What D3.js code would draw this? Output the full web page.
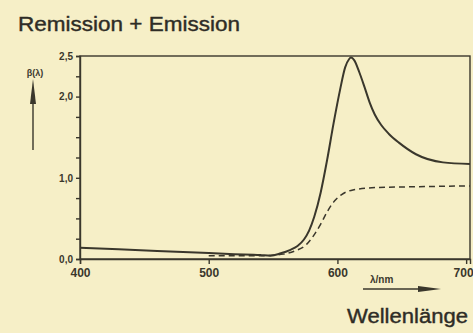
<!DOCTYPE html>
<html>
<head>
<meta charset="utf-8">
<script src="https://cdn.jsdelivr.net/npm/d3@7"></script>
<style>
  body { margin: 0; background: #f6efc7; }
  svg { display: block; font-family: "Liberation Sans", Arial, sans-serif; }
</style>
</head>
<body>
<svg id="chart" width="473" height="333"></svg>
<script>
// 1) Data

// solid curve: Remission + Emission
var totalNm  = [400, 430, 460, 490, 520, 540, 548, 556, 563, 569, 574, 578, 582, 587, 592, 597, 602, 606, 609, 610.5, 613, 617, 621, 625, 629, 634, 640, 648, 661, 682, 703];
var totalVal = [0.14, 0.12, 0.10, 0.08, 0.06, 0.05, 0.04, 0.07, 0.11, 0.16, 0.24, 0.35, 0.52, 0.82, 1.22, 1.67, 2.08, 2.36, 2.46, 2.48, 2.45, 2.30, 2.12, 1.93, 1.78, 1.65, 1.54, 1.43, 1.29, 1.19, 1.17];

// dashed curve: Remission only
var remNm  = [500, 540, 558, 567, 576, 582, 587, 592, 597, 603, 612, 630, 660, 703];
var remVal = [0.04, 0.04, 0.06, 0.10, 0.18, 0.30, 0.43, 0.58, 0.70, 0.79, 0.85, 0.88, 0.89, 0.90];

var xTicks = [400, 500, 600, 700];
var yTicks = [0, 0.25, 0.5, 0.75, 1, 1.25, 1.5, 1.75, 2, 2.25, 2.5];
var yLabelValues = [0, 1, 2, 2.5];

// 2) Chart

var ink = "#3a372c";
var svg = d3.select("#chart");

var x = d3.scaleLinear().domain([400, 703]).range([80, 470]);
var y = d3.scaleLinear().domain([0, 2.5]).range([259, 56]);

// frame
svg.append("rect")
    .attr("x", x(400)).attr("y", y(2.5))
    .attr("width", x(703) - x(400)).attr("height", y(0) - y(2.5))
    .attr("fill", "none").attr("stroke", ink).attr("stroke-width", 1.4);

// y axis
var yAxis = svg.append("g")
    .attr("transform", "translate(" + x(400) + ",0)")
    .call(d3.axisLeft(y).tickValues(yTicks).tickSize(4).tickPadding(3)
        .tickFormat(function(d) { return yLabelValues.indexOf(d) >= 0 ? d3.format(".1f")(d).replace(".", ",") : ""; }));

// x axis
var xAxis = svg.append("g")
    .attr("transform", "translate(0," + y(0) + ")")
    .call(d3.axisBottom(x).tickValues(xTicks).tickSize(5).tickPadding(4)
        .tickFormat(function(d) { return d; }));

[yAxis, xAxis].forEach(function(g) {
   g.select(".domain").attr("stroke", ink).attr("stroke-width", 1.4);
   g.selectAll(".tick line").attr("stroke", ink).attr("stroke-width", 1.4);
   g.selectAll(".tick text").attr("fill", ink).attr("font-weight", "bold")
       .attr("font-family", "'Liberation Sans Narrow', 'Liberation Sans', sans-serif");
});
yAxis.selectAll(".tick text").attr("font-size", 10);
xAxis.selectAll(".tick text").attr("font-size", 12);
// last label sits at the page edge: keep it inside
xAxis.selectAll(".tick text").filter(function(d) { return d === 700; })
    .attr("text-anchor", "end").attr("dx", "7");

// curves
var line = d3.line().curve(d3.curveMonotoneX);

svg.append("path")
    .attr("d", line(totalNm.map(function(d, i) { return [x(d), y(totalVal[i])]; })))
    .attr("fill", "none").attr("stroke", ink).attr("stroke-width", 2);

svg.append("path")
    .attr("d", line(remNm.map(function(d, i) { return [x(d), y(remVal[i])]; })))
    .attr("fill", "none").attr("stroke", ink).attr("stroke-width", 1.5)
    .attr("stroke-dasharray", "6,4");

// y label with arrow
svg.append("text")
    .attr("x", 35).attr("y", 76)
    .attr("text-anchor", "middle").attr("font-size", 9).attr("font-weight", "bold")
    .attr("fill", ink).text("β(λ)");
svg.append("line")
    .attr("x1", 33).attr("x2", 33).attr("y1", 150).attr("y2", 95)
    .attr("stroke", ink).attr("stroke-width", 1.4);
svg.append("path")
    .attr("d", "M33,79 L36,104 L30,104 Z").attr("fill", ink);

// x label with arrow
svg.append("text")
    .attr("x", 370).attr("y", 283)
    .attr("font-size", 10).attr("font-weight", "bold")
    .attr("fill", ink).text("λ/nm");
svg.append("line")
    .attr("x1", 363).attr("x2", 425).attr("y1", 289).attr("y2", 289)
    .attr("stroke", ink).attr("stroke-width", 1.4);
svg.append("path")
    .attr("d", "M441,289 L418,286 L418,292 Z").attr("fill", ink);

// titles
svg.append("text")
    .attr("x", 18).attr("y", 31)
    .attr("font-size", 21).attr("fill", "#2e2c26")
    .attr("stroke", "#2e2c26").attr("stroke-width", 0.4)
    .attr("textLength", 222).attr("lengthAdjust", "spacingAndGlyphs")
    .text("Remission + Emission");

svg.append("text")
    .attr("x", 347).attr("y", 323)
    .attr("font-size", 20).attr("fill", "#2e2c26")
    .attr("stroke", "#2e2c26").attr("stroke-width", 0.4)
    .attr("textLength", 121).attr("lengthAdjust", "spacingAndGlyphs")
    .text("Wellenlänge");
</script>
</body>
</html>
